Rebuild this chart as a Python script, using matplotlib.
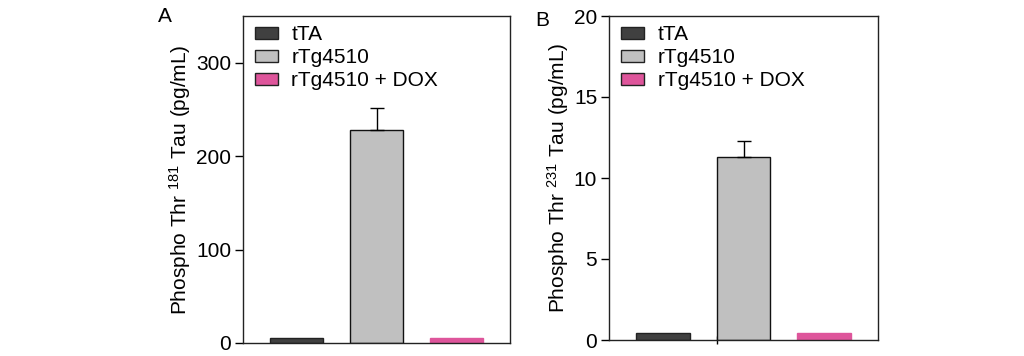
import matplotlib
matplotlib.use("Agg")
import matplotlib.pyplot as plt
from matplotlib.patches import Patch

plt.rcParams['font.family'] = ['Liberation Sans', 'DejaVu Sans']
plt.rcParams['mathtext.fontset'] = 'custom'
plt.rcParams['mathtext.rm'] = 'Liberation Sans'
plt.rcParams['mathtext.it'] = 'Liberation Sans'

groups = ['tTA', 'rTg4510', 'rTg4510 + DOX']
colors = ['#404040', '#c0c0c0', '#de559b']
edgecols = ['#222222', '#111111', '#de559b']

thr181 = [5.5, 228, 5.0]
thr181_err = [0, 24, 0]
thr231 = [0.41, 11.3, 0.46]
thr231_err = [0, 0.98, 0]

fig = plt.figure(figsize=(10.24, 3.56), dpi=100)
axA = fig.add_axes([243/1024, 13/356, 267/1024, 327/356])
axB = fig.add_axes([609/1024, 16/356, 269/1024, 324/356])

def draw(ax, vals, errs, ylim, yticks, ylabel, letter, lx, ly):
    x = list(range(len(vals)))
    ax.bar(x, vals, width=0.67, color=colors, edgecolor=edgecols, linewidth=1.0, zorder=2)
    for xi, v, e in zip(x, vals, errs):
        if e > 0:
            ax.errorbar([xi], [v], yerr=[[0], [e]], fmt='none', ecolor='black',
                        elinewidth=1.0, capsize=4.8, capthick=1.0, zorder=3)
    ax.set_xlim(-0.67, 2.67)
    ax.set_ylim(*ylim)
    ax.set_yticks(yticks)
    ax.tick_params(axis='y', direction='out', length=5.5, width=1, labelsize=15, pad=3)
    ax.set_ylabel(ylabel, fontsize=15, labelpad=2)
    for s in ax.spines.values():
        s.set_linewidth(1.0)
        s.set_color('#222222')
    handles = [Patch(facecolor=c, edgecolor='#222222', linewidth=1.0) for c in colors]
    ax.legend(handles, groups, loc='upper left', bbox_to_anchor=(0.045, 0.972),
              frameon=False, fontsize=15, handlelength=1.1, handleheight=0.5,
              handletextpad=0.65, labelspacing=0.2, borderpad=0, borderaxespad=0)
    fig.text(lx, ly, letter, fontsize=15, ha='center', va='center')

draw(axA, thr181, thr181_err, (0, 350), [0, 100, 200, 300],
     'Phospho Thr $^{181}$ Tau (pg/mL)', 'A', 165/1024, 1 - 16/356)
axA.set_xticks([])
draw(axB, thr231, thr231_err, (0, 20), [0, 5, 10, 15, 20],
     'Phospho Thr $^{231}$ Tau (pg/mL)', 'B', 542/1024, 1 - 20/356)
axB.set_xticks([1 - 0.335])
axB.set_xticklabels([''])
axB.tick_params(axis='x', direction='inout', length=6, width=1)

fig.savefig('out.png', dpi=100)
